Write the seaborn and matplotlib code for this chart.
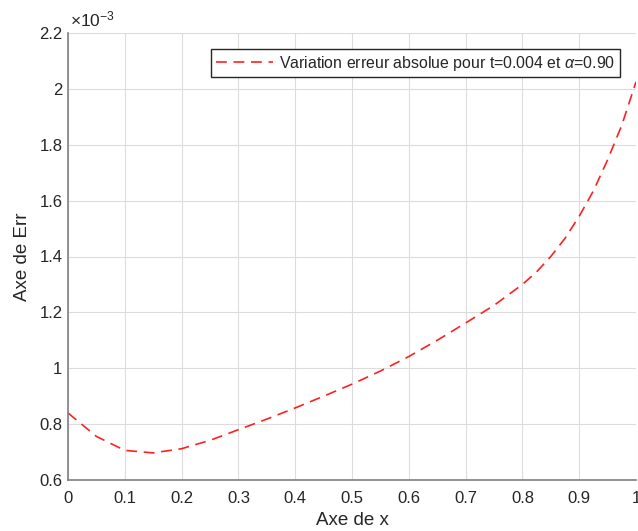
import numpy as np
import pandas as pd
import matplotlib
matplotlib.use("Agg")
import matplotlib.pyplot as plt
import seaborn as sns
from matplotlib.ticker import FuncFormatter, MultipleLocator

# Data (in absolute units)
x_vals = [0.0, 0.05, 0.1, 0.15, 0.2, 0.25, 0.3, 0.35, 0.4, 0.45, 0.5,
          0.55, 0.6, 0.65, 0.7, 0.75, 0.8, 0.825, 0.85, 0.875, 0.9, 0.925,
          0.95, 0.975, 1.0]
err_vals_e3 = [0.840, 0.756, 0.706, 0.697, 0.712, 0.742, 0.780, 0.818, 0.858,
               0.900, 0.943, 0.990, 1.042, 1.100, 1.162, 1.225, 1.300, 1.345,
               1.400, 1.465, 1.544, 1.635, 1.746, 1.870, 2.025]
err_vals = [v * 1e-3 for v in err_vals_e3]
legend_label = r"Variation erreur absolue pour t=0.004 et $\alpha$=0.90"
x_ticks = [0, 0.1, 0.2, 0.3, 0.4, 0.5, 0.6, 0.7, 0.8, 0.9, 1]

df = pd.DataFrame({"x": x_vals, "err": err_vals})

sns.set_theme(style="white")
plt.rcParams['font.family'] = ['Liberation Sans', 'DejaVu Sans']
plt.rcParams['mathtext.fontset'] = 'custom'
plt.rcParams['mathtext.rm'] = 'Liberation Sans'
plt.rcParams['mathtext.it'] = 'Liberation Sans:italic'

fig = plt.figure(figsize=(6.38, 5.31), dpi=100)
ax = fig.add_axes([68/638, 1 - 480/531, (636-68)/638, (480-33)/531])

sns.lineplot(data=df, x="x", y="err", ax=ax, color="#ff2020",
             linestyle=(0, (6.5, 4)), linewidth=1.2, label=legend_label)

ax.set_xlim(0, 1)
ax.set_ylim(0.6e-3, 2.2e-3)
ax.set_xticks(x_ticks)
ax.yaxis.set_major_locator(MultipleLocator(0.2e-3))
ax.xaxis.set_major_formatter(FuncFormatter(lambda v, p: f"{v:g}"))
ax.yaxis.set_major_formatter(FuncFormatter(lambda v, p: f"{round(v*1e3, 6):g}"))

ax.grid(True, color="#dcdcdc", linewidth=0.8)
for s in ["top", "right"]:
    ax.spines[s].set_visible(False)
for s in ["left", "bottom"]:
    ax.spines[s].set_color("#808080")
    ax.spines[s].set_linewidth(1.2)
ax.tick_params(direction="in", length=4, width=1, color="#404040",
               labelsize=12, labelcolor="#262626")
ax.tick_params(axis="x", pad=8)
ax.tick_params(axis="y", pad=4)

ax.set_xlabel("Axe de x", fontsize=13.5, color="#262626", labelpad=4)
ax.set_ylabel("Axe de Err", fontsize=13.5, color="#262626", labelpad=6)

ax.text(0.003, 1.008, r"$\times\mathregular{10^{-3}}$", transform=ax.transAxes,
        fontsize=12.5, color="#262626", ha="left", va="bottom")

leg = ax.legend(loc="upper right", fontsize=11.4, frameon=True, fancybox=False,
                edgecolor="#262626", framealpha=1, handlelength=3.6,
                borderaxespad=1.0, borderpad=0.3, handletextpad=0.4)
leg.get_frame().set_linewidth(1.0)
for t in leg.get_texts():
    t.set_color("#262626")

fig.savefig("out.png", dpi=100)
